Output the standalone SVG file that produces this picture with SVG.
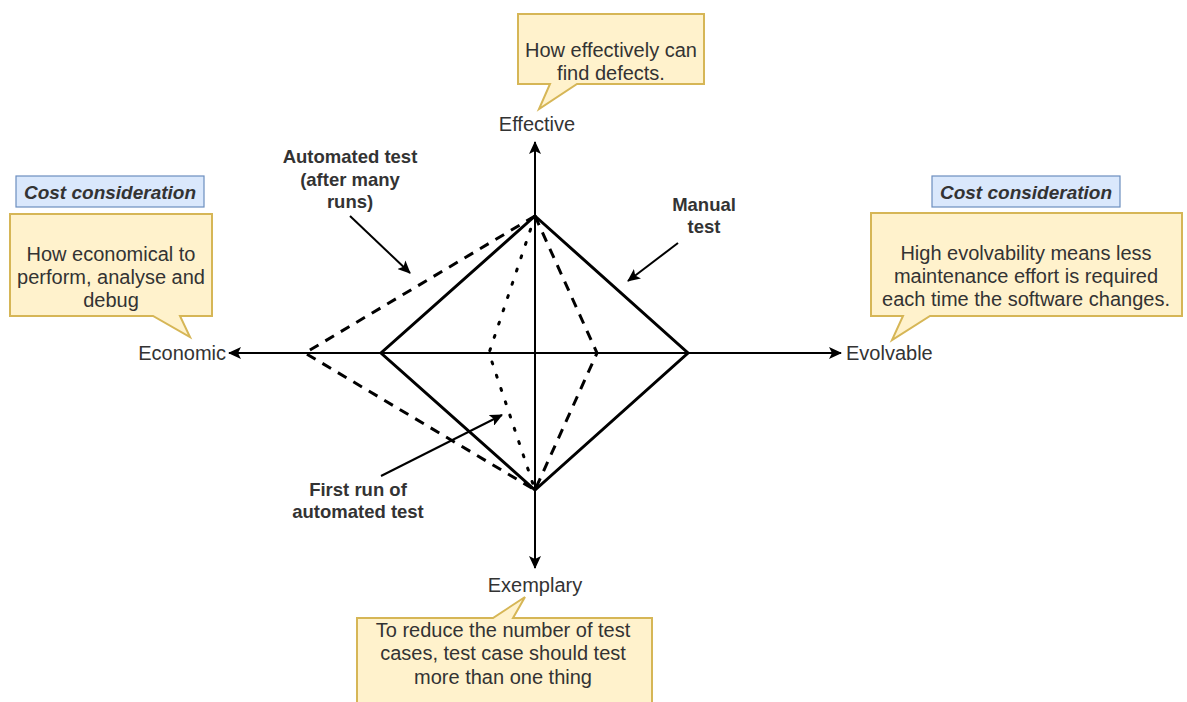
<svg xmlns="http://www.w3.org/2000/svg" width="1187" height="702" viewBox="0 0 1187 702">
  <style>
    .axis { stroke: #000; stroke-width: 2; fill: none; }
    .solid { stroke: #000; stroke-width: 3; fill: none; stroke-linejoin: miter; }
    .dashed { stroke: #000; stroke-width: 3; fill: none; stroke-dasharray: 10 8; }
    .dotted { stroke: #000; stroke-width: 3; fill: none; stroke-dasharray: 2 12; stroke-linecap: round; }
    .pointer { stroke: #000; stroke-width: 2; fill: none; }
    .note { fill: #fff2cc; stroke: #d6b656; stroke-width: 2; }
    .tag { fill: #dae8fc; stroke: #6c8ebf; stroke-width: 1.2; }
    .t { font-family: "Liberation Sans", Arial, sans-serif; font-size: 20px; fill: #333; text-anchor: middle; }
    .b { font-family: "Liberation Sans", Arial, sans-serif; font-size: 18.5px; font-weight: bold; fill: #333; text-anchor: middle; }
    .bi { font-family: "Liberation Sans", Arial, sans-serif; font-size: 19px; font-weight: bold; font-style: italic; fill: #333; text-anchor: middle; }
  </style>
  <defs>
    <marker id="arrow" markerUnits="userSpaceOnUse" markerWidth="14" markerHeight="12" refX="12" refY="6" orient="auto">
      <path d="M0,0 L13,6 L0,12 L3,6 Z" fill="#000"/>
    </marker>
  </defs>

  <rect width="1187" height="702" fill="#fff"/>

  <!-- axes and test profiles -->
  <g id="connectors">
    <line class="axis" x1="535" y1="353" x2="535" y2="142" marker-end="url(#arrow)"/>
    <line class="axis" x1="535" y1="353" x2="535" y2="568" marker-end="url(#arrow)"/>
    <line class="axis" x1="535" y1="353" x2="229" y2="353" marker-end="url(#arrow)"/>
    <line class="axis" x1="535" y1="353" x2="841" y2="353" marker-end="url(#arrow)"/>

    <!-- manual test -->
    <path class="solid" d="M535,216 L688,353 L535,490 L381,353 Z"/>
    <!-- automated test after many runs -->
    <path class="dashed" d="M535,216 L305,353 L535,490"/>
    <path class="dashed" d="M535,216 L597,353 L535,490"/>
    <!-- first run of automated test -->
    <path class="dotted" d="M535,216 L489,353 L535,490"/>

    <!-- label pointers -->
    <line class="pointer" x1="350" y1="216" x2="410" y2="273" marker-end="url(#arrow)"/>
    <line class="pointer" x1="678" y1="243" x2="628" y2="281" marker-end="url(#arrow)"/>
    <line class="pointer" x1="381" y1="476" x2="502" y2="415" marker-end="url(#arrow)"/>
  </g>

  <!-- axis labels -->
  <g id="label-effective"><text class="t" x="537" y="131">Effective</text></g>
  <g id="label-economic"><text class="t" x="226" y="360" text-anchor="end" style="text-anchor:end">Economic</text></g>
  <g id="label-evolvable"><text class="t" x="846" y="360" style="text-anchor:start">Evolvable</text></g>
  <g id="label-exemplary"><text class="t" x="535" y="592">Exemplary</text></g>

  <!-- profile labels -->
  <g id="label-automated">
    <text class="b" x="350" y="163">Automated test</text>
    <text class="b" x="350" y="186">(after many</text>
    <text class="b" x="350" y="208">runs)</text>
  </g>
  <g id="label-manual">
    <text class="b" x="704" y="211">Manual</text>
    <text class="b" x="704" y="233">test</text>
  </g>
  <g id="label-first-run">
    <text class="b" x="358" y="496">First run of</text>
    <text class="b" x="358" y="518">automated test</text>
  </g>

  <!-- callout: effective -->
  <g id="note-effective">
    <path class="note" d="M518,14 L704,14 L704,84 L577,84 L539,109 L550,84 L518,84 Z"/>
    <text class="t" x="611" y="57">How effectively can</text>
    <text class="t" x="611" y="80">find defects.</text>
  </g>

  <!-- callout: economic -->
  <g id="tag-cost-left">
    <rect class="tag" x="16" y="176" width="188" height="31"/>
    <text class="bi" x="110" y="199">Cost consideration</text>
  </g>
  <g id="note-economic">
    <path class="note" d="M10,214 L212,214 L212,316 L180,316 L190,337 L153,316 L10,316 Z"/>
    <text class="t" x="111" y="261">How economical to</text>
    <text class="t" x="111" y="284">perform, analyse and</text>
    <text class="t" x="111" y="307">debug</text>
  </g>

  <!-- callout: evolvable -->
  <g id="tag-cost-right">
    <rect class="tag" x="932" y="176" width="188" height="31"/>
    <text class="bi" x="1026" y="199">Cost consideration</text>
  </g>
  <g id="note-evolvable">
    <path class="note" d="M871,213 L1182,213 L1182,316 L930,316 L892,340 L903,316 L871,316 Z"/>
    <text class="t" x="1026" y="260">High evolvability means less</text>
    <text class="t" x="1026" y="283">maintenance effort is required</text>
    <text class="t" x="1026" y="306">each time the software changes.</text>
  </g>

  <!-- callout: exemplary -->
  <g id="note-exemplary">
    <path class="note" d="M357,618 L493,618 L525,597 L513,618 L652,618 L652,720 L357,720 Z"/>
    <text class="t" x="503" y="637">To reduce the number of test</text>
    <text class="t" x="503" y="660">cases, test case should test</text>
    <text class="t" x="503" y="684">more than one thing</text>
  </g>
</svg>
